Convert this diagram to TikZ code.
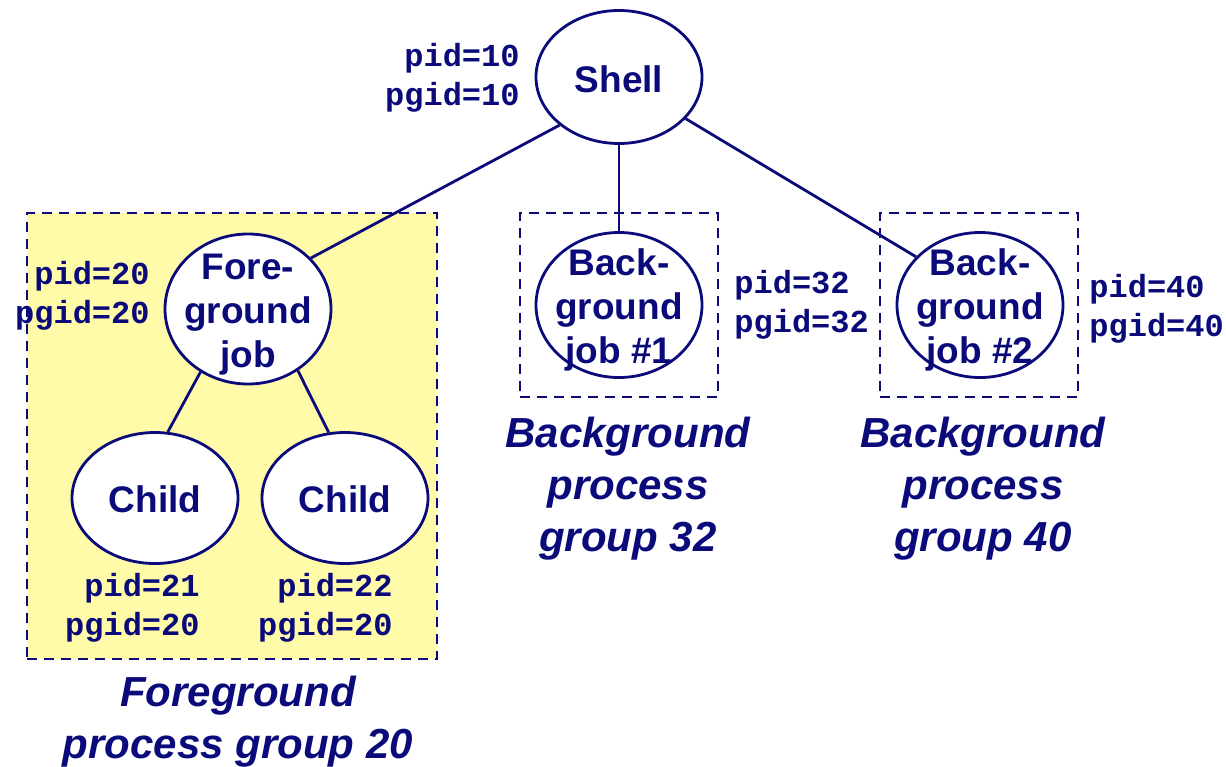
\documentclass[tikz,border=0pt]{standalone}
\usepackage{fontspec}
\setmainfont{Liberation Sans}
\setmonofont{Liberation Mono}
\usetikzlibrary{shapes.geometric}
\definecolor{navy}{HTML}{0A0A7A}
\definecolor{pale}{HTML}{FFFBA8}
\tikzstyle{proc}=[ellipse, inner sep=0pt, minimum width=83pt, line width=1.4pt, draw=navy, fill=white]
\tikzstyle{jobtext}=[inner sep=0pt, align=center, text=navy, yshift=-2.5pt, font=\fontsize{18.5}{22}\selectfont\bfseries]
\tikzstyle{grp}=[rectangle, inner sep=0pt, line width=1.2pt, draw=navy, dash pattern=on 5pt off 3.5pt]
\tikzstyle{ids}=[inner sep=0pt, text=navy, font=\fontsize{16}{19.5}\selectfont\ttfamily\bfseries]
\tikzstyle{caption}=[inner sep=0pt, align=center, text=navy, font=\fontsize{21}{26}\selectfont\bfseries\itshape]
\tikzstyle{link}=[line width=1.4pt, draw=navy]

\begin{document}
\begin{tikzpicture}[x=0.5pt, y=-0.5pt]

\useasboundingbox (0, 0) rectangle (1226, 766);

\node [grp, fill=pale, minimum width=205pt, minimum height=223pt] (fgbox) at (232, 436) {};
\node [grp, minimum width=99pt, minimum height=92pt] (bg1box) at (619, 305) {};
\node [grp, minimum width=99pt, minimum height=92pt] (bg2box) at (979, 305) {};

\node [proc, minimum height=66.5pt, label={[jobtext, yshift=1.5pt]center:Shell}] (shell) at (619, 77) {};
\node [proc, minimum height=75pt, label={[jobtext, yshift=-0.5pt]center:Fore-\\ground\\job}] (fg) at (248, 309) {};
\node [proc, minimum height=72.5pt, label={[jobtext]center:Back-\\ground\\job \#1}] (bg1) at (619, 305) {};
\node [proc, minimum height=72.5pt, label={[jobtext]center:Back-\\ground\\job \#2}] (bg2) at (980, 305) {};
\node [proc, minimum height=65.5pt, label={[jobtext, yshift=2pt]center:Child}] (c1) at (155, 498) {};
\node [proc, minimum height=65.5pt, label={[jobtext, yshift=2pt]center:Child}] (c2) at (345, 498) {};

\node [ids, anchor=east, align=right] (id10) at (520, 78) {pid=10\\pgid=10};
\node [ids, anchor=east, align=right] (id20) at (150, 296) {pid=20\\pgid=20};
\node [ids, anchor=west, align=left] (id32) at (734, 305) {pid=32\\pgid=32};
\node [ids, anchor=west, align=left] (id40) at (1089, 309) {pid=40\\pgid=40};
\node [ids, anchor=east, align=right] (id21) at (200, 608) {pid=21\\pgid=20};
\node [ids, anchor=east, align=right] (id22) at (393, 608) {pid=22\\pgid=20};

\node [caption] (fgcap) at (238, 722) {Foreground\\process group 20};
\node [caption] (bg1cap) at (628, 489) {Background\\process\\group 32};
\node [caption] (bg2cap) at (983, 489) {Background\\process\\group 40};

\draw [link] (shell.219) -- (fg.39);
\draw [link] (shell) -- (bg1);
\draw [link] (shell.328) -- (bg2.143);

\draw [link] (fg.233) -- (c1.79);
\draw [link] (fg.309) -- (c2.104);

\end{tikzpicture}
\end{document}
